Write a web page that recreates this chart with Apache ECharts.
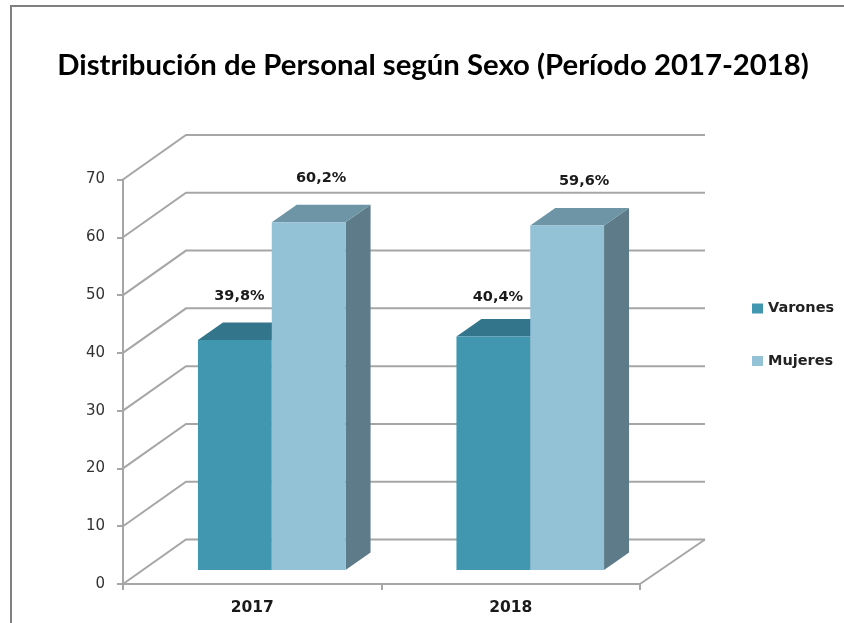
<!DOCTYPE html>
<html>
<head>
<meta charset="utf-8">
<style>
  html, body { margin: 0; padding: 0; background: #fff; }
  #chart { width: 844px; height: 623px; }
</style>
<script src="https://cdn.jsdelivr.net/npm/echarts@6/dist/echarts.min.js"></script>
</head>
<body>
<div id="chart"></div>
<script>
const categories = ['2017', '2018']
const varones = [39.8, 40.4]
const mujeres = [60.2, 59.6]
const varonesLabels = ['39,8%', '40,4%']
const mujeresLabels = ['60,2%', '59,6%']
const yTicks = [0, 10, 20, 30, 40, 50, 60, 70]

// profundidad del "3D": muro trasero y prisma de cada barra
const WALL_DX = 63
const WALL_DY = -44.5
const WALL_END_DX = 65
const BAR_SHIFT_X = 19.5
const BAR_SHIFT_Y = -14
const BAR_DX = 25
const BAR_DY = -17.5
const BAR_WIDTH = 73.8
const LINE = '#a6a6a6'

const chart = echarts.init(document.getElementById('chart'))

function renderWall(params, api) {
  const p = api.coord([0, api.value(0)])
  const x0 = params.coordSys.x
  const xEnd = x0 + params.coordSys.width
  return {
    type: 'polyline',
    shape: {
      points: [
        [x0, p[1]],
        [x0 + WALL_DX, p[1] + WALL_DY],
        [xEnd + WALL_END_DX, p[1] + WALL_DY]
      ]
    },
    style: { stroke: LINE, lineWidth: 2, fill: 'none' }
  }
}

function renderFloorEdge(params, api) {
  const xEnd = params.coordSys.x + params.coordSys.width
  const p = api.coord([0, 0])
  return {
    type: 'line',
    shape: { x1: xEnd, y1: p[1], x2: xEnd + WALL_END_DX, y2: p[1] + WALL_DY },
    style: { stroke: LINE, lineWidth: 2 }
  }
}

function barRenderer(colors, side, labels, nudges) {
  return function(params, api) {
    const idx = api.value(0)
    const top = api.coord([idx, api.value(1)])
    const base = api.coord([idx, 0])
    // cada serie ocupa media agrupacion a la izq. o der. del centro
    const left = top[0] + BAR_SHIFT_X + (side < 0 ? -BAR_WIDTH : 0)
    const right = left + BAR_WIDTH
    const yTop = top[1] + BAR_SHIFT_Y
    const yBase = base[1] + BAR_SHIFT_Y
    const poly = (points, fill) => ({
      type: 'polygon',
      shape: { points },
      style: { fill }
    })
    return {
      type: 'group',
      children: [
        poly([[right, yTop], [right + BAR_DX, yTop + BAR_DY], [right + BAR_DX, yBase + BAR_DY], [right, yBase]], colors.side),
        poly([[left, yTop], [left + BAR_DX, yTop + BAR_DY], [right + BAR_DX, yTop + BAR_DY], [right, yTop]], colors.top),
        poly([[left, yTop], [right, yTop], [right, yBase], [left, yBase]], colors.front),
        {
          type: 'text',
          style: {
            x: (left + right) / 2 + nudges[idx][0],
            y: yTop + nudges[idx][1],
            text: labels[idx],
            fill: '#1a1a1a',
            font: 'bold 14.5px "DejaVu Sans"',
            align: 'center',
            verticalAlign: 'middle'
          }
        }
      ]
    }
  }
}

const varonesColors = { front: '#4196b0', top: '#33758b', side: '#2f6b80' }
const mujeresColors = { front: '#93c1d6', top: '#6e95a5', side: '#5d7b88' }

chart.setOption({
  animation: false,
  backgroundColor: '#fff',
  title: {
    text: 'Distribución de Personal según Sexo (Período 2017-2018)',
    left: 428,
    top: 46,
    textAlign: 'center',
    textStyle: {
      fontFamily: 'Lato',
      fontWeight: 'bold',
      fontSize: 29.3,
      color: '#000'
    }
  },
  legend: {
    data: [
      { name: 'Varones', itemStyle: { color: varonesColors.front } },
      { name: 'Mujeres', itemStyle: { color: mujeresColors.front } }
    ],
    orient: 'vertical',
    left: 747,
    top: 296,
    icon: 'rect',
    itemWidth: 11,
    itemHeight: 10,
    itemGap: 37.5,
    textStyle: {
      fontFamily: 'DejaVu Sans',
      fontWeight: 'bold',
      fontSize: 14.5,
      color: '#222'
    }
  },
  graphic: [
    {
      type: 'polyline',
      shape: { points: [[11, 623], [11, 6], [844, 6]] },
      style: { stroke: '#808080', lineWidth: 2, fill: 'none' }
    }
  ],
  grid: { left: 123, top: 179.5, width: 517, height: 404.5 },
  xAxis: {
    type: 'category',
    data: categories,
    axisLine: { lineStyle: { color: LINE, width: 2 } },
    axisTick: { show: true, alignWithLabel: false, length: 6, lineStyle: { color: LINE, width: 2 } },
    axisLabel: {
      margin: 16,
      fontFamily: 'DejaVu Sans',
      fontWeight: 'bold',
      fontSize: 15.5,
      color: '#1a1a1a'
    },
    splitLine: { show: false }
  },
  yAxis: {
    type: 'value',
    min: 0,
    max: 70,
    interval: 10,
    axisLine: { show: true, lineStyle: { color: LINE, width: 2 } },
    axisTick: { show: true, length: 6, lineStyle: { color: LINE, width: 2 } },
    axisLabel: {
      margin: 18,
      fontFamily: 'DejaVu Sans',
      fontSize: 15,
      color: '#333'
    },
    splitLine: { show: false }
  },
  series: [
    {
      type: 'custom',
      name: 'paredes',
      z: 1,
      renderItem: renderWall,
      data: yTicks.map(v => [v]),
      encode: { y: 0 },
      silent: true
    },
    {
      type: 'custom',
      name: 'piso',
      z: 1,
      renderItem: renderFloorEdge,
      data: [[0]],
      silent: true
    },
    {
      type: 'custom',
      name: 'Varones',
      z: 2,
      renderItem: barRenderer(varonesColors, -1, varonesLabels, [[4.5, -44], [4.5, -39]]),
      data: varones.map((v, i) => [i, v]),
      encode: { x: 0, y: 1 }
    },
    {
      type: 'custom',
      name: 'Mujeres',
      z: 3,
      renderItem: barRenderer(mujeresColors, 1, mujeresLabels, [[12.5, -44], [17, -44]]),
      data: mujeres.map((v, i) => [i, v]),
      encode: { x: 0, y: 1 }
    }
  ]
})
</script>
</body>
</html>
